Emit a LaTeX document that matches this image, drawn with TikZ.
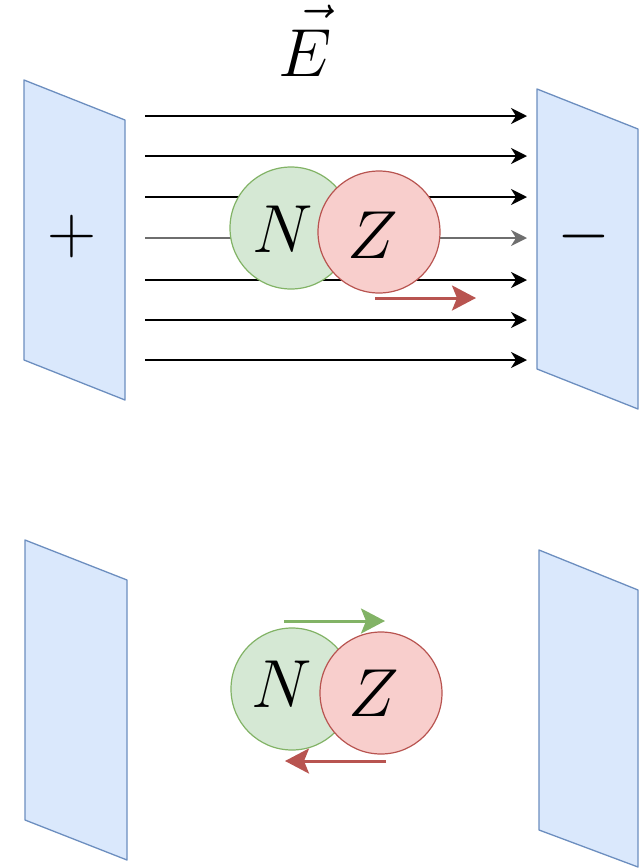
\RequirePackage{fix-cm}
\documentclass[tikz,border=0pt]{standalone}
\usetikzlibrary{arrows.meta}
\definecolor{plateFill}{HTML}{DAE8FC}
\definecolor{plateLine}{HTML}{6C8EBF}
\definecolor{nFill}{HTML}{D5E8D4}
\definecolor{nLine}{HTML}{82B366}
\definecolor{zFill}{HTML}{F8CECC}
\definecolor{zLine}{HTML}{B85450}
\definecolor{fieldGray}{HTML}{6E6E6E}
\tikzset{
  plate/.style={fill=plateFill, draw=plateLine, line width=1.3pt, line join=round},
  fieldline/.style={draw=black, line width=1.8pt, -{Stealth[length=16pt,width=16pt,inset=5pt]}},
  midline/.style={fieldline, draw=fieldGray},
  nball/.style={circle, minimum size=122pt, inner sep=0pt, fill=nFill, draw=nLine, line width=1.2pt},
  zball/.style={circle, minimum size=122pt, inner sep=0pt, fill=zFill, draw=zLine, line width=1.2pt},
  bigtext/.style={inner sep=0pt, font=\fontsize{68pt}{72pt}\selectfont},
  redmove/.style={draw=zLine, line width=3pt, -{Stealth[length=24pt,width=25pt,inset=5pt]}},
  greenmove/.style={draw=nLine, line width=3pt, -{Stealth[length=24pt,width=25pt,inset=5pt]}},
}
\begin{document}
\begin{tikzpicture}[x=1pt,y=-1pt]
\useasboundingbox (0,0) rectangle (642,868);

% ---------- upper panel: plates in a uniform field ----------
\draw[plate] (24,80) -- (125,120) -- (125,400) -- (24,360) -- cycle;
\draw[plate] (537,89) -- (638,129) -- (638,409) -- (537,369) -- cycle;
\node[bigtext] (plus) at (72,236) {$+$};
\node[bigtext] (minus) at (584,236) {$-$};
\node[bigtext, anchor=base] (field) at (305,76)
  {$\skew{5}\vec{\raisebox{0pt}[\dimexpr\height+5pt\relax]{$E$}}$};

% field lines
\foreach \i/\y in {1/116,2/156,3/197,5/280,6/320,7/360}{
  \coordinate (fs\i) at (145,\y);
  \coordinate (fe\i) at (527,\y);
  \draw[fieldline] (fs\i) -- (fe\i);
}
\coordinate (fs4) at (145,238);
\coordinate (fe4) at (527,238);
\draw[midline] (fs4) -- (fe4);

% nucleon pair
\node[nball] (N1) at (291,228) {};
\node[zball] (Z1) at (379,232) {};
\node[bigtext] (N1t) at (283,229) {$N$};
\node[bigtext] (Z1t) at (373,235) {$Z$};

% drift of the charged part
\coordinate (r1s) at (375,298);
\coordinate (r1e) at (476,298);
\draw[redmove] (r1s) -- (r1e);

% ---------- lower panel: no field ----------
\draw[plate] (25,540) -- (127,580) -- (127,860) -- (25,820) -- cycle;
\draw[plate] (539,550) -- (638,590) -- (638,867) -- (539,830) -- cycle;

\node[nball] (N2) at (292,689) {};
\node[zball] (Z2) at (381,693) {};
\node[bigtext] (N2t) at (282,684) {$N$};
\node[bigtext] (Z2t) at (374,693) {$Z$};

\coordinate (g2s) at (284,621);
\coordinate (g2e) at (385,621);
\draw[greenmove] (g2s) -- (g2e);
\coordinate (r2s) at (386,761);
\coordinate (r2e) at (285,761);
\draw[redmove] (r2s) -- (r2e);
\end{tikzpicture}
\end{document}
